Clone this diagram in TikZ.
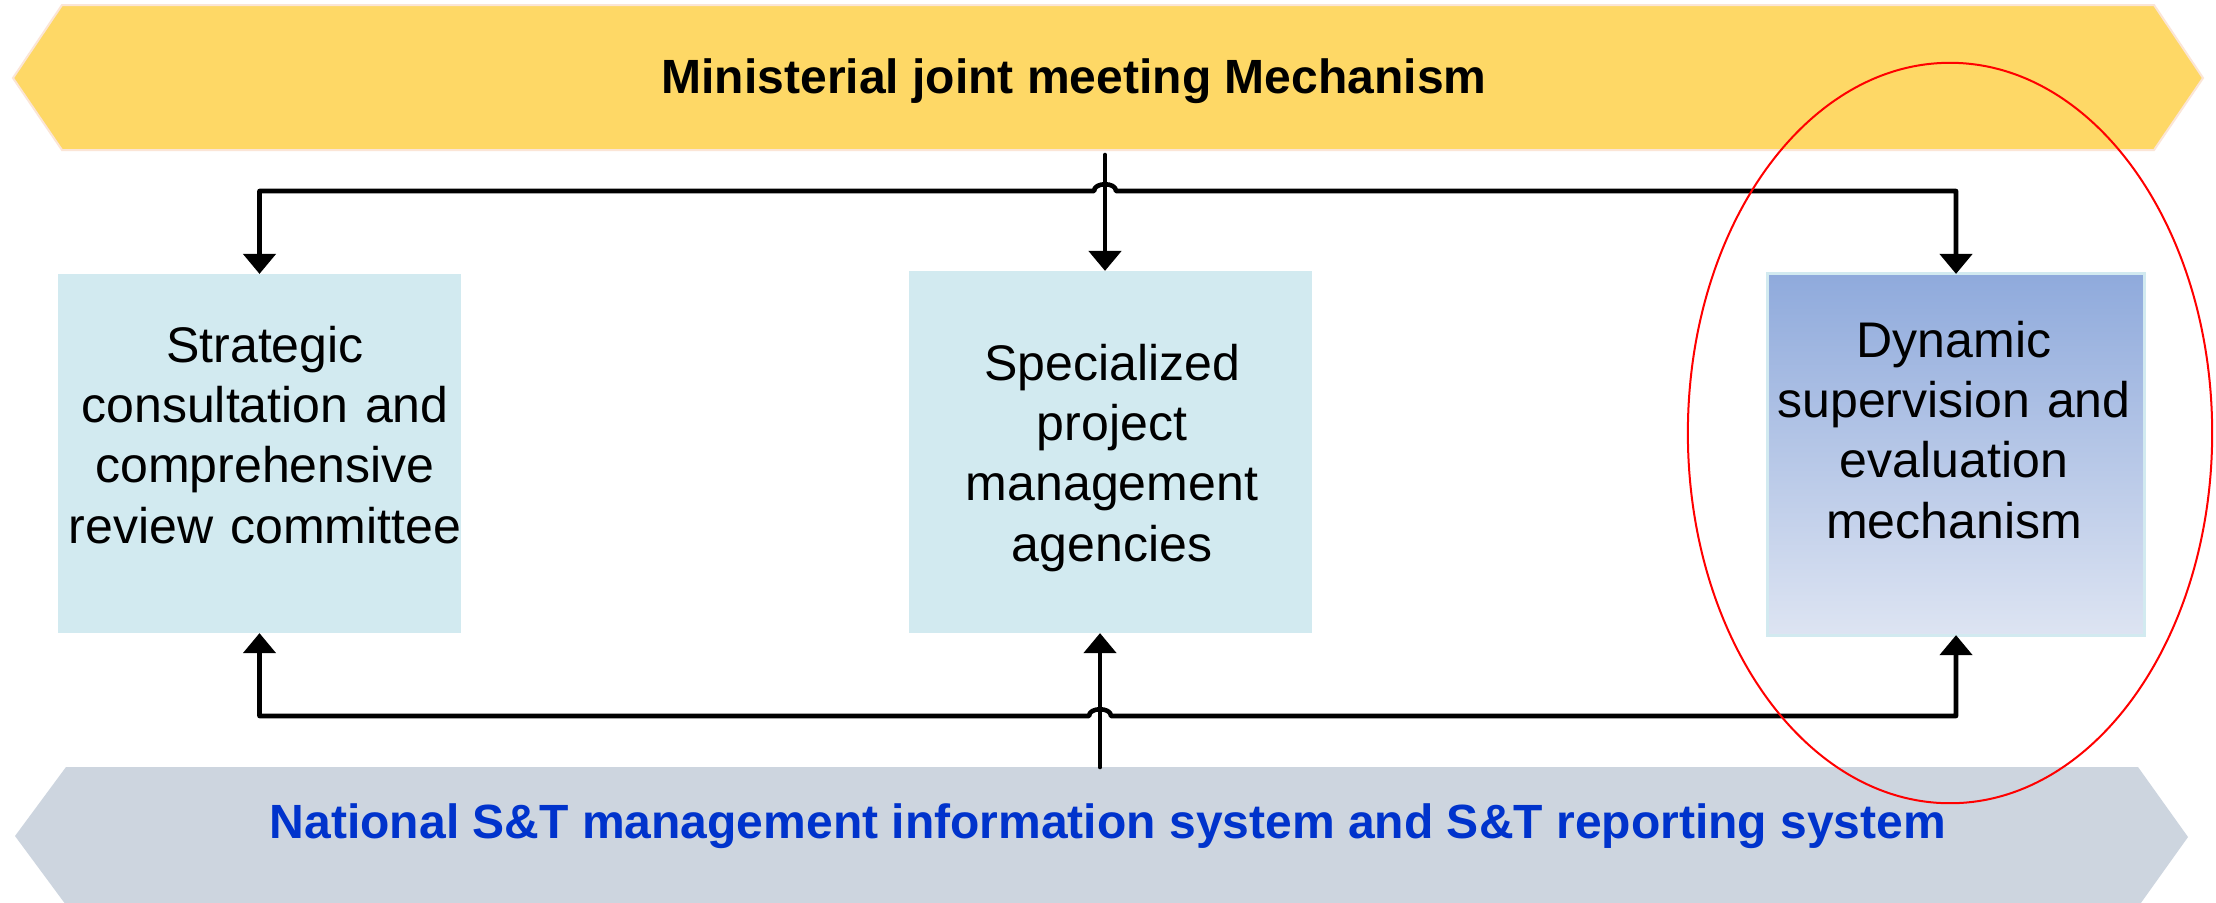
\documentclass[tikz,border=0pt]{standalone}
\usepackage{fontspec}
\setmainfont{Liberation Sans}
\usetikzlibrary{arrows.meta,calc,shapes.geometric}
\definecolor{bannerY}{RGB}{254,216,102}
\definecolor{bannerYedge}{RGB}{251,229,214}
\definecolor{bannerG}{RGB}{205,213,223}
\definecolor{boxC}{RGB}{210,234,240}
\definecolor{dynTop}{RGB}{143,170,220}
\definecolor{dynBot}{RGB}{221,228,242}
\definecolor{navy}{RGB}{0,51,204}
\begin{document}
\begin{tikzpicture}[x=0.01cm,y=-0.01cm,
  >={Triangle[width=0.32cm,length=0.2cm]},
  boxnode/.style={rectangle, inner sep=0pt, outer sep=0pt, fill=boxC},
  boxtext/.style={inner sep=0pt, anchor=base, align=center, text width=4cm,
    font=\fontsize{14.23}{17.16}\selectfont},
  bannertext/.style={inner sep=0pt, anchor=base,
    font=\fontsize{13.66}{16}\selectfont\bfseries},
  conn/.style={line width=0.046cm, line join=round, line cap=round}]
\useasboundingbox (0,0) rectangle (2216,902);
\clip (0,0) rectangle (2216,902);
\fill[white] (0,0) rectangle (2216,902);
% banners
\filldraw[fill=bannerY, draw=bannerYedge, line width=0.02cm]
  (13,78) -- (62,5) -- (2154,5) -- (2203,78) -- (2154,150) -- (62,150) -- cycle;
\fill[bannerG] (15,836) -- (66,767) -- (2138,767) -- (2188,837) -- (2138,907) -- (66,905) -- cycle;
\node[bannertext] (toptext) at (1074,93) {Ministerial joint meeting Mechanism};
\node[bannertext, text=navy] (bottext) at (1108,838) {National S\&T management information system and S\&T reporting system};
% boxes
\node[boxnode, minimum width=4.03cm, minimum height=3.59cm] (strat) at (259.5,453.5) {};
\node[boxnode, minimum width=4.03cm, minimum height=3.62cm] (spec) at (1110.5,452) {};
\node[rectangle, inner sep=0pt, outer sep=0pt, minimum width=3.76cm, minimum height=3.61cm,
  top color=dynTop, bottom color=dynBot, draw=boxC, line width=0.03cm] (dyn) at (1956,454.5) {};
\node[boxtext] (strattext) at (265,362) {Strategic\\consultation and\\comprehensive\\review committee};
\node[boxtext] (spectext) at (1112,380) {Specialized\\project\\management\\agencies};
\node[boxtext] (dyntext) at (1954,357) {Dynamic\\supervision and\\evaluation\\mechanism};
% top connectors
\coordinate (topsrc) at (1105,155);
\coordinate (tophub) at (1105,191);
\draw[conn,->] (topsrc) -- (topsrc |- spec.north);
\draw[conn,<->] (strat.north) -- (strat.north |- tophub) -- ($(tophub)+(-11,0)$)
  .. controls +(0,-9) and +(0,-9) .. ($(tophub)+(11,0)$) -- (dyn.north |- tophub) -- (dyn.north);
% bottom connectors
\coordinate (botsrc) at (1100,767);
\coordinate (bothub) at (1100,716);
\draw[conn,->] (botsrc) -- (botsrc |- spec.south);
\draw[conn,<->] (strat.south) -- (strat.south |- bothub) -- ($(bothub)+(-11,0)$)
  .. controls +(0,-9) and +(0,-9) .. ($(bothub)+(11,0)$) -- (dyn.south |- bothub) -- (dyn.south);
% highlight
\node[ellipse, draw=red, line width=0.02cm, inner sep=0pt, minimum width=5.24cm, minimum height=7.40cm] (focus) at (1950,433) {};
\end{tikzpicture}
\end{document}
